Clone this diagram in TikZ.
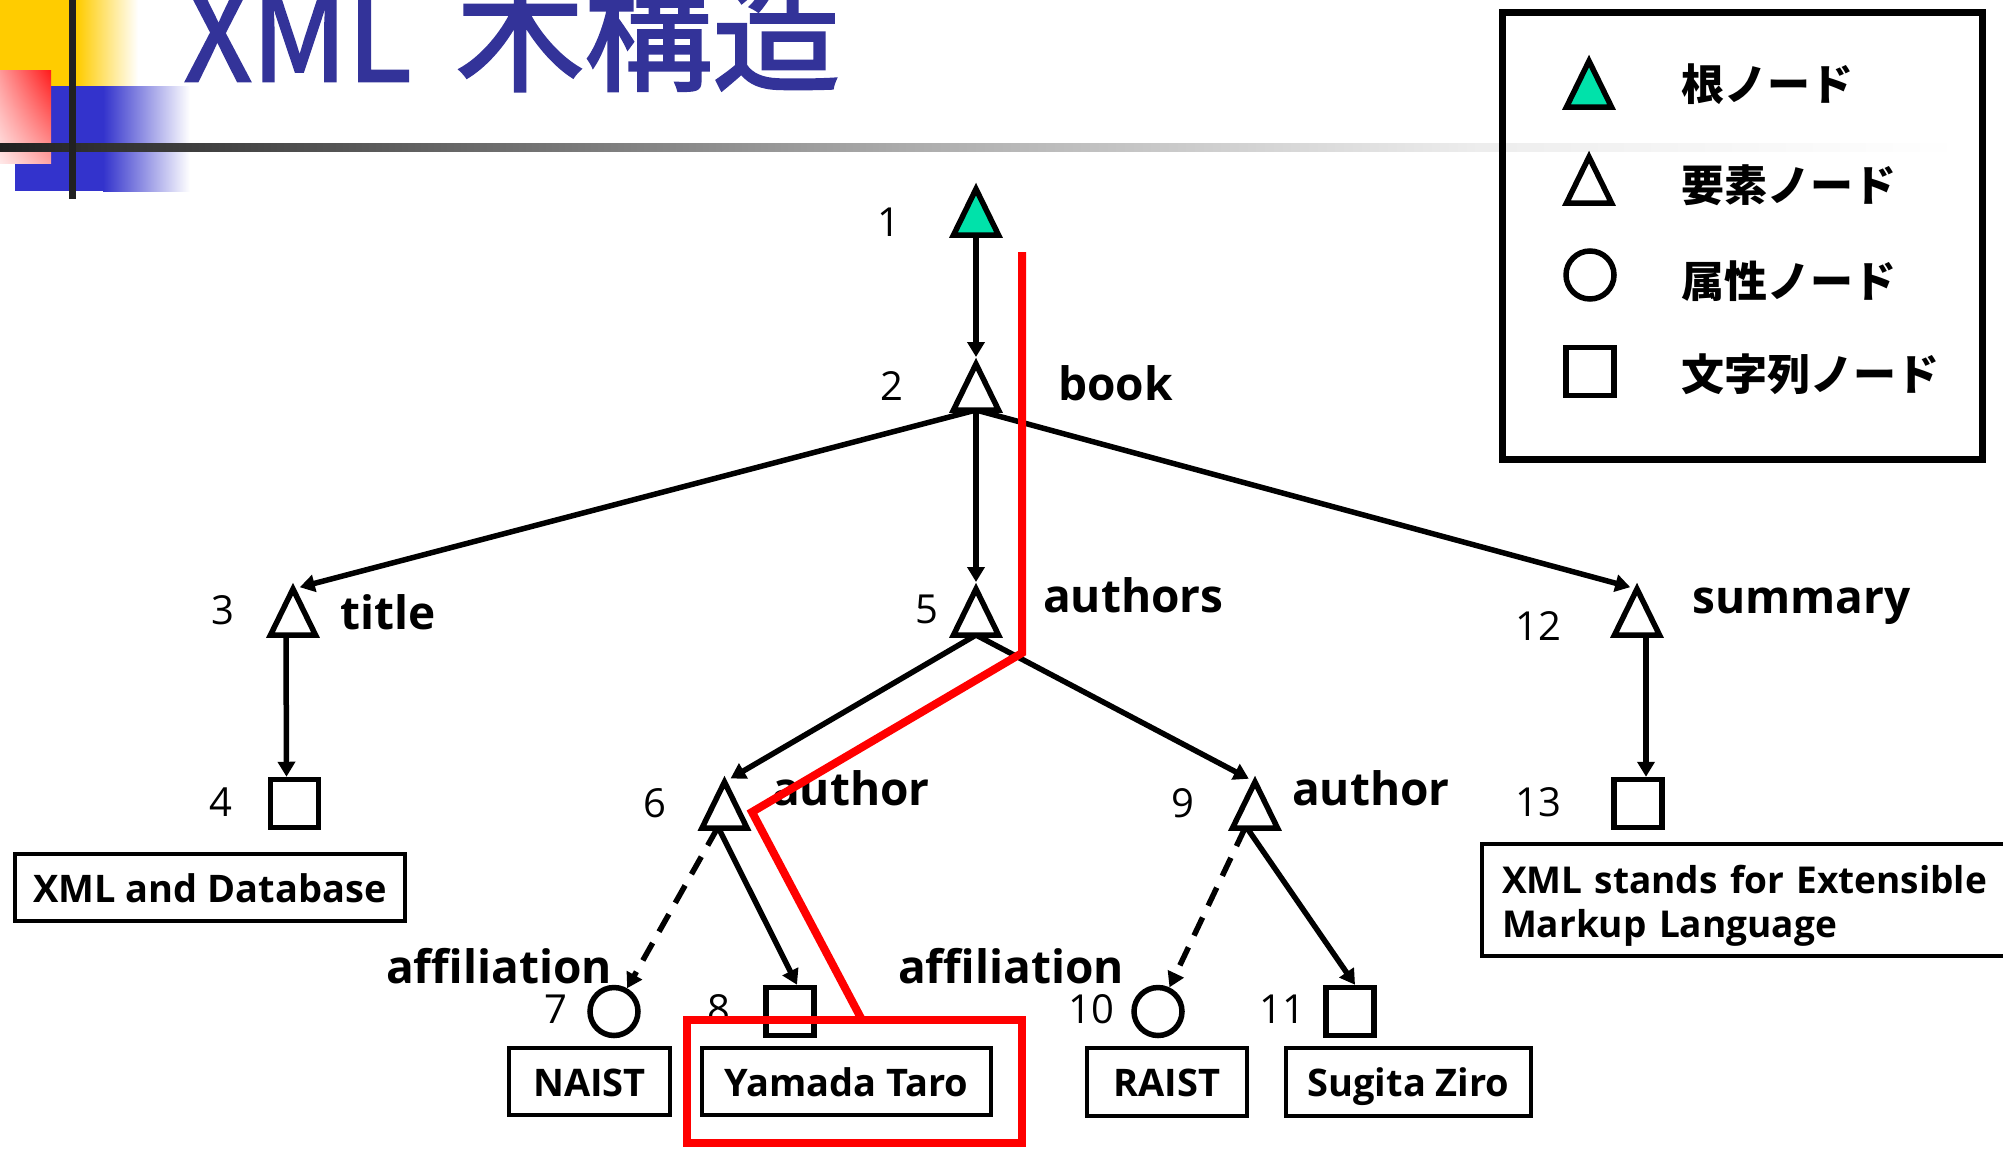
\documentclass[tikz,border=0pt]{standalone}
\usepackage{fontspec}
\setmainfont{Open Sans}
\newfontfamily\cjk{Noto Sans CJK JP}
\newfontfamily\cjktitle[FakeBold=2]{Noto Sans CJK JP}
\usetikzlibrary{arrows.meta,shadings}
\definecolor{titleblue}{RGB}{51,51,153}
\definecolor{rootgreen}{RGB}{0,226,170}
\definecolor{decoyellow}{RGB}{255,204,0}
\definecolor{decoblue}{RGB}{51,51,204}
\definecolor{decored}{RGB}{255,26,26}
\begin{document}
\begin{tikzpicture}[x=1pt,y=-1pt,
  trinode/.style={rectangle, inner sep=0pt, outer sep=0pt, minimum width=45pt, minimum height=46pt},
  strnode/.style={rectangle, draw, fill=white, line width=5.5pt, inner sep=0pt, minimum size=48pt},
  attnode/.style={circle, draw, fill=white, line width=5.5pt, inner sep=0pt, minimum size=48pt},
  shapeline/.style={line width=5.5pt, line join=miter},
  edge/.style={line width=5.5pt, -{Triangle[length=15pt,width=17pt]}},
  totri/.style={shorten >=7pt},
  attedge/.style={edge, dash pattern=on 20pt off 13pt},
  numlabel/.style={font=\fontsize{40}{40}\selectfont, inner sep=0pt, anchor=base},
  taglabel/.style={font=\fontsize{46}{46}\selectfont\bfseries, inner sep=0pt, anchor=base west},
  valbox/.style={draw, line width=4pt, inner sep=0pt, text height=29pt, text depth=0pt,
                 font=\fontsize{38}{44}\selectfont\bfseries},
  legtext/.style={font=\cjk\bfseries\fontsize{43}{43}\selectfont, inner sep=0pt, anchor=west},
  titletext/.style={anchor=base west, inner sep=0pt, text=titleblue, font=\cjktitle\fontsize{128}{128}\selectfont},
  redpath/.style={red, line width=8pt, line join=miter}
]
\useasboundingbox (0,0) rectangle (2003,1149);
\clip (0,0) rectangle (2003,1149);
\fill[white] (0,0) rectangle (2003,1149);

% ---- decoration top left
\fill[decoyellow] (0,0) rectangle (77,86);
\shade[left color=decoyellow, right color=white] (77,0) rectangle (138,86);
\fill[decoblue] (15,86) rectangle (103,191);
\shade[left color=decoblue, right color=white] (103,86) rectangle (190,191);
\shade[upper right=decored, upper left=decored!45, lower right=decored!40, lower left=decored!10] (0,70) rectangle (51,163);
\shade[left color=black!87, right color=black!33] (0,143) rectangle (900.5,151);
\shade[left color=black!33, right color=black!7] (900,143) rectangle (1480.5,151);
\shade[left color=black!7, right color=white] (1480,143) rectangle (1960,151);
\fill[black!87] (68.5,0) rectangle (75.5,199);

% ---- title
\node[titletext] (ttlA) at (184,81) {\scalebox{0.92}[1]{XML}};
\node[titletext] (ttlB) at (456,81) {木構造};

% ---- legend
\node[draw, line width=7pt, minimum width=480pt, minimum height=447pt, inner sep=0pt] (legend) at (1742,235.5) {};
\node[trinode] (lg1) at (1589,84) {};
\node[trinode] (lg2) at (1589,180) {};
\node[attnode] (lg3) at (1590,275) {};
\node[strnode] (lg4) at (1590,371.5) {};
\draw[shapeline, fill=rootgreen] (lg1.south west) -- (lg1.north) -- (lg1.south east) -- cycle;
\draw[shapeline, fill=white] (lg2.south west) -- (lg2.north) -- (lg2.south east) -- cycle;
\node[legtext] (lt1) at (1681,84) {根ノード};
\node[legtext] (lt2) at (1681,185) {要素ノード};
\node[legtext] (lt3) at (1681,281) {属性ノード};
\node[legtext] (lt4) at (1681,374) {文字列ノード};

% ---- tree nodes
\node[trinode] (n1) at (976,212) {};
\node[trinode] (n2) at (976,387) {};
\node[trinode] (n3) at (293,612) {};
\node[strnode] (n4) at (294.5,803.5) {};
\node[trinode] (n5) at (976,612) {};
\node[trinode] (n6) at (724.5,805) {};
\node[attnode] (n7) at (614,1011.5) {};
\node[strnode] (n8) at (790,1011.5) {};
\node[trinode] (n9) at (1255,805) {};
\node[attnode] (n10) at (1158,1011.5) {};
\node[strnode] (n11) at (1350,1011.5) {};
\node[trinode] (n12) at (1637,612) {};
\node[strnode] (n13) at (1638,803.5) {};

% ---- connectors
\draw[edge, totri] (n1.south) -- (n2.north);
\draw[edge, totri] (n2.south) -- (n3.north);
\draw[edge, totri] (n2.south) -- (n5.north);
\draw[edge, totri] (n2.south) -- (n12.north);
\draw[edge] ([xshift=-7pt]n3.south) -- ([xshift=-8pt]n4.north);
\draw[edge, totri] (n5.south) -- (n6.north);
\draw[edge, totri] (n5.south) -- (n9.north);
\draw[attedge] ([xshift=-7pt]n6.south) -- (n7);
\draw[edge] ([xshift=-6pt]n6.south) -- ([xshift=7pt]n8.north);
\draw[attedge] ([xshift=-10pt]n9.south) -- (n10);
\draw[edge] ([xshift=-8pt]n9.south) -- ([xshift=5pt]n11.north);
\draw[edge] ([xshift=9pt]n12.south) -- ([xshift=8pt]n13.north);

% ---- triangles
\draw[shapeline, fill=rootgreen] (n1.south west) -- (n1.north) -- (n1.south east) -- cycle;
\foreach \n in {n2,n3,n5,n6,n9,n12}
  \draw[shapeline, fill=white] (\n.south west) -- (\n.north) -- (\n.south east) -- cycle;

% ---- numbers
\node[numlabel] (l1) at (889,236) {1};
\node[numlabel] (l2) at (892,400) {2};
\node[numlabel] (l3) at (223,624) {3};
\node[numlabel] (l4) at (220.5,816) {4};
\node[numlabel] (l5) at (927,623) {5};
\node[numlabel] (l6) at (655,817) {6};
\node[numlabel] (l7) at (556,1023) {7};
\node[numlabel] (l8) at (719,1023) {8};
\node[numlabel] (l9) at (1183,817) {9};
\node[numlabel] (l10) at (1091,1023) {10};
\node[numlabel] (l11) at (1282,1023) {11};
\node[numlabel] (l12) at (1538,640) {12};
\node[numlabel] (l13) at (1538,816) {13};

% ---- tag labels
\node[taglabel] (tbook) at (1058,400) {book};
\node[taglabel] (ttitle) at (340,629) {title};
\node[taglabel] (tauthors) at (1043,612) {authors};
\node[taglabel] (tauthor1) at (772,805) {author};
\node[taglabel] (tauthor2) at (1292,805) {author};
\node[taglabel] (taff1) at (386,983) {affiliation};
\node[taglabel] (taff2) at (898,983) {affiliation};
\node[taglabel] (tsummary) at (1692,613) {summary};

% ---- value boxes
\node[valbox, minimum width=390pt, minimum height=67pt] (v4) at (210,887.5) {XML and Database};
\node[valbox, minimum width=161pt, minimum height=67pt] (v7) at (589.5,1081.5) {NAIST};
\node[valbox, minimum width=289pt, minimum height=67pt] (v8) at (846.5,1081.5) {Yamada Taro};
\node[valbox, minimum width=160pt, minimum height=68pt] (v10) at (1167,1082) {RAIST};
\node[valbox, minimum width=245pt, minimum height=68pt] (v11) at (1408.5,1082) {Sugita Ziro};
\node[draw, line width=4pt, inner xsep=20pt, inner ysep=0pt, anchor=west, align=left,
      text width=520pt, minimum height=112pt, text height=29pt, text depth=43pt,
      font=\fontsize{37}{44}\selectfont\bfseries] (v13) at (1480,900)
      {XML stands for Extensible\\Markup Language};

% ---- red highlight
\node[draw=red, line width=8pt, minimum width=335.5pt, minimum height=123pt, inner sep=0pt] (rbox) at (854.25,1081.5) {};
\coordinate (rstart) at (1022,252);
\coordinate (rb1) at (1022,653);
\coordinate (rb2) at (752,812);
\coordinate (rb3) at (862,1020);
\draw[redpath] (rstart) -- (rb1) -- (rb2) -- (rb3);
\end{tikzpicture}
\end{document}
